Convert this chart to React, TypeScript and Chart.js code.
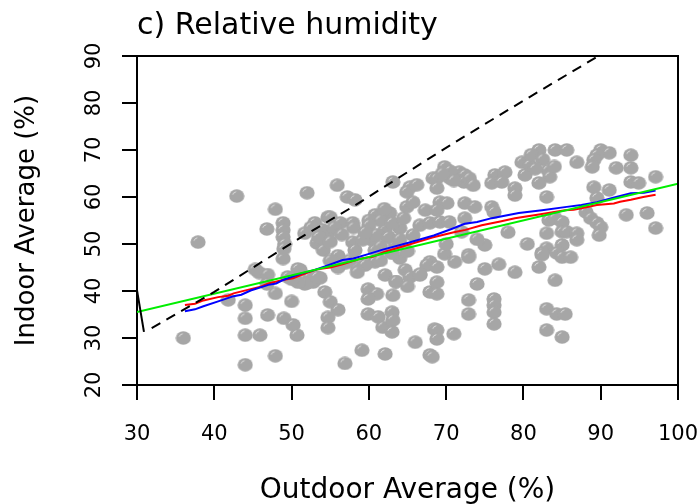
import React, { useEffect, useRef } from "react";
import { Chart, registerables } from "chart.js";

Chart.register(...registerables);

// Scatter: outdoor vs indoor relative humidity (%)
const outdoor = [
  36, 37.9, 42.9, 44, 44, 44, 44, 45.9, 41.8, 46.9, 47.9, 47.9, 49, 50.2, 50.7, 50, 45.8, 46.9, 45.3, 46.8,
  48.9, 47.9, 46.8, 48.9, 48.9, 48.9, 49.1, 49, 52, 55.9, 51.7, 53, 54.7, 54.1, 57.2, 58.2, 63.1, 65.3, 64.9, 66.2,
  68.3, 55, 56.3, 57.9, 54.7, 53.3, 54.1, 57.9, 58.2, 60.8, 62.7, 62.1, 60.4, 63.4, 60.8, 64, 59.2, 64.9, 65.7, 67.3,
  66.6, 65.7, 67.9, 51.1, 52.4, 53.7, 52.8, 52, 51.7, 53.3, 50.8, 50.8, 54.3, 55, 56, 54.7, 54.7, 56.9, 59.9, 61,
  59.9, 63.1, 59.9, 61.2, 61.8, 63, 63.1, 63, 59.1, 62.1, 66, 67.9, 68.5, 60.8, 62.1, 64, 64.7, 66.6, 67.9, 67.9,
  67.5, 65.3, 66.6, 82, 84.1, 85.6, 79.8, 80.8, 83.2, 80.2, 83.4, 69.8, 71.7, 72.4, 68.8, 70.5, 72.3, 76.3, 77.6, 75.9,
  77.2, 78.9, 78.9, 68.8, 69.2, 70.1, 83, 72.4, 73.7, 75.9, 76.2, 68.8, 69.2, 70.4, 72.4, 72, 83.3, 84.1, 85, 83,
  85, 83, 85, 75, 72.9, 82.4, 84.3, 69.8, 71.1, 72.9, 68.8, 75, 76.8, 78.9, 82, 82.4, 85, 84.1, 74, 68.8,
  68.8, 72.9, 76.2, 76.2, 76.2, 72.9, 76.2, 83, 84.3, 85.4, 83, 85, 68.8, 68.8, 71, 68.2, 86.9, 90, 91.1, 89.5,
  89.1, 88.9, 93.9, 92, 93.9, 97.1, 93.9, 94.9, 89.1, 91.1, 89.5, 88.1, 88.7, 89.5, 90, 93.3, 96, 97.1, 85.6, 86.9,
  86.9, 89.8, 86.1, 57, 58.5, 56, 55, 59.5, 61.5, 63.5, 58, 60, 62.5, 65, 70, 74, 78, 80.5,
  61.5, 63, 60, 61, 62.5, 64, 61.5, 63, 59.5, 62, 64.5, 52.5, 54, 55.5, 53.5, 55, 56.5, 70.5, 71, 73,
  69.5, 73.5, 81, 82.5, 81.5, 84, 82, 49.5, 50, 56, 57.5, 58.5, 63.5, 65,
];
const indoor = [
  30, 50.4, 60.2, 24.3, 37, 34.2, 30.6, 30.6, 38.1, 34.9, 26.2, 39.5, 34.2, 32.8, 30.6, 37.8, 43.9, 43.5, 44.6, 41.5,
  46.9, 57.4, 53.2, 54.5, 53, 51.5, 50, 49, 60.9, 62.5, 52.3, 54.5, 55.7, 51.5, 60, 59.4, 63.2, 62.1, 61.1, 62.6,
  64, 55.7, 54.5, 54.5, 52.3, 50.2, 48.7, 50.4, 48.7, 56.2, 56.6, 53, 50.9, 49.8, 48.7, 53.4, 50.9, 57.9, 58.9, 57.2,
  54, 51.9, 54.5, 44.5, 43, 42.8, 41.9, 41.7, 41.5, 43, 44.7, 41.9, 39.8, 37.7, 36, 34.4, 32.2, 24.6, 40.4, 39.4,
  38.3, 39.1, 35.1, 34.5, 32.3, 35.5, 33.8, 31.3, 27.4, 26.6, 29.1, 26.4, 31.9, 46.2, 43.4, 47, 44.5, 43.4, 46.2, 39.8,
  45.5, 43, 43.6, 70, 70, 70, 67.4, 66.8, 65.7, 64.7, 64.3, 66.4, 65.3, 64.7, 64, 64, 63.2, 64.7, 65.3, 63,
  63.2, 61.9, 60.4, 61.9, 58.9, 58.7, 60, 58.7, 57.9, 57.9, 56.8, 57.2, 54.7, 54.7, 55.5, 52.6, 55.1, 55.5, 54.7, 52.3,
  52.6, 49.1, 49.8, 49.8, 47.7, 48.1, 48.1, 47.9, 46.2, 47.2, 45.1, 44.7, 45.7, 44, 45.1, 47.7, 47.2, 42.3, 41.5, 41.9,
  39.4, 38.1, 38.3, 37, 35.5, 35.1, 33, 36.2, 35.1, 35.1, 31.7, 30.2, 31.7, 29.8, 30.9, 26, 67.4, 70, 69.4, 68.9,
  67.9, 66.4, 68.9, 66.2, 66.2, 64.3, 63.2, 63, 62.1, 61.5, 59.8, 56.8, 55.5, 54.5, 53.6, 56.2, 56.6, 53.4, 52.6, 52.3,
  50.9, 51.9, 47.2, 46, 45, 47.5, 46.5, 45.5, 46.5, 42, 53.5, 55, 51.5, 48.5, 50, 51, 52.5, 50,
  55, 54.5, 54, 52, 51.5, 51, 49.5, 48, 52.5, 57.5, 55.5, 53.5, 53, 53.5, 51.5, 50.5, 52, 65.5, 63.5, 64,
  65, 62.5, 69, 68, 66, 66.5, 63, 43, 42.5, 45, 46.5, 44, 42, 41,
];

// Red smoother
const redX = [36.2, 37.5, 38.6, 40.5, 41.8, 42.5, 44.7, 46, 47, 49, 50.2, 51.2, 53.3, 55, 56.6, 59, 60.5, 62, 65, 68.2, 71, 72.5, 74.6, 77, 78.9, 82, 85.4, 86.5, 87.5, 89.5, 91.7, 92.5, 93.9, 95.5, 97.1];
const redY = [37.0, 37.3, 38.0, 38.7, 39.0, 39.5, 40.4, 40.9, 41.6, 42.4, 42.7, 43.4, 44.6, 45.0, 45.7, 46.9, 47.3, 48.3, 49.8, 51.4, 52.5, 53.0, 54.0, 54.8, 55.5, 56.3, 57.2, 57.3, 57.6, 58.3, 58.6, 59.0, 59.4, 60.0, 60.5];
// Blue smoother
const blueX = [36.2, 37.5, 38.5, 40.5, 42.5, 43.5, 44.7, 47, 48, 49, 51.2, 53, 54.3, 56.6, 58, 59.8, 61.8, 65, 68.4, 70.7, 72.4, 74, 75.9, 79.4, 82.4, 85.6, 87.5, 89.5, 91.5, 93.9, 95.6, 97.1];
const blueY = [35.7, 36.1, 36.7, 37.8, 38.9, 39.2, 40.1, 41.3, 41.6, 42.4, 43.7, 44.5, 45.2, 46.6, 46.9, 47.8, 48.8, 50.2, 51.8, 53.2, 54.3, 54.7, 55.5, 56.6, 57.2, 57.9, 58.3, 58.9, 59.8, 60.8, 60.9, 61.4];
// Green linear fit
const greenX = [30, 100];
const greenY = [35.5, 62.8];
// Black dashed curve
const dashX = [31.9, 40, 51, 58, 70.5, 80, 89.5];
const dashY = [32.1, 39.8, 51.2, 58, 71, 80.5, 89.8];
// Short solid black segment at the left edge
const segX = [30, 30.9];
const segY = [40.2, 31.3];

const xTicks = [30, 40, 50, 60, 70, 80, 90, 100];
const yTicks = [20, 30, 40, 50, 60, 70, 80, 90];

const zip = (xs: number[], ys: number[]) => xs.map((x, i) => ({ x, y: ys[i] }));

function makeDot(): HTMLCanvasElement {
  const c = document.createElement("canvas");
  c.width = 16;
  c.height = 14;
  const g = c.getContext("2d")!;
  g.fillStyle = "#a6a6a6";
  g.beginPath();
  g.ellipse(8, 7, 7.6, 6.7, 0, 0, Math.PI * 2);
  g.fill();
  g.strokeStyle = "rgba(230,230,230,0.9)";
  g.lineWidth = 1;
  g.beginPath();
  g.arc(8, 7, 4.3, Math.PI * 1.1, Math.PI * 1.45);
  g.stroke();
  return c;
}

const FONT = "'DejaVu Sans', sans-serif";

export default function App() {
  const ref = useRef<HTMLCanvasElement>(null);
  useEffect(() => {
    document.body.style.margin = "0";
    const canvas = ref.current!;
    const boxPlugin = {
      id: "rbox",
      afterDraw(chart: any) {
        const { ctx, chartArea: a } = chart;
        ctx.save();
        ctx.strokeStyle = "#000";
        ctx.lineWidth = 2;
        ctx.beginPath();
        ctx.moveTo(a.left, a.top);
        ctx.lineTo(a.right, a.top);
        ctx.lineTo(a.right, a.bottom);
        ctx.stroke();
        ctx.restore();
      },
    };
    const dot = makeDot();
    const line = (xs: number[], ys: number[], color: string, order: number, dash?: number[]) => ({
      type: "scatter" as const,
      data: zip(xs, ys),
      showLine: true,
      borderColor: color,
      backgroundColor: color,
      borderWidth: 2,
      borderDash: dash || [],
      pointRadius: 0,
      order,
    });
    const chart = new Chart(canvas, {
      type: "scatter",
      data: {
        datasets: [
          line(dashX, dashY, "#000000", 1, [10, 7]),
          line(segX, segY, "#000000", 1),
          line(greenX, greenY, "#00ee00", 2),
          line(blueX, blueY, "#0000ff", 3),
          line(redX, redY, "#ff0000", 4),
          {
            type: "scatter",
            data: zip(outdoor, indoor),
            pointStyle: dot as any,
            pointRadius: 7,
            backgroundColor: "#a6a6a6",
            borderWidth: 0,
            order: 10,
          },
        ],
      },
      options: {
        responsive: false,
        animation: false,
        events: [],
        layout: { padding: { left: 0, right: 21, top: 0, bottom: 0 } },
        plugins: {
          legend: { display: false },
          tooltip: { enabled: false },
          title: {
            display: true,
            text: "c) Relative humidity",
            align: "start",
            fullSize: false,
            color: "#000",
            font: { family: FONT, size: 30, weight: "normal" },
            padding: { top: 8, bottom: 12 },
          },
        },
        scales: {
          x: {
            type: "linear",
            min: 30,
            max: 100,
            afterFit: (s: any) => {
              s.height = 119;
              s.paddingLeft = 0;
              s.paddingRight = 0;
            },
            afterBuildTicks: (s: any) => {
              s.ticks = xTicks.map((v) => ({ value: v }));
            },
            ticks: { color: "#000", font: { family: FONT, size: 21 }, padding: 22, autoSkip: false, maxRotation: 0, minRotation: 0 },
            grid: { display: true, drawOnChartArea: false, drawTicks: true, tickLength: 15, color: "#000", lineWidth: 2 },
            border: { display: true, color: "#000", width: 2 },
            title: { display: true, text: "Outdoor Average (%)", color: "#000", font: { family: FONT, size: 28 }, padding: { top: 0, bottom: -4 } },
          },
          y: {
            type: "linear",
            min: 20,
            max: 90,
            afterFit: (s: any) => {
              s.width = 137;
              s.paddingTop = 0;
              s.paddingBottom = 0;
            },
            afterBuildTicks: (s: any) => {
              s.ticks = yTicks.map((v) => ({ value: v }));
            },
            ticks: { color: "#000", font: { family: FONT, size: 21 }, padding: 14, autoSkip: false, minRotation: 90, maxRotation: 90, crossAlign: "center" },
            grid: { display: true, drawOnChartArea: false, drawTicks: true, tickLength: 15, color: "#000", lineWidth: 2 },
            border: { display: true, color: "#000", width: 2 },
            title: { display: true, text: "Indoor Average (%)", color: "#000", font: { family: FONT, size: 26 }, padding: { top: 12, bottom: 0 } },
          },
        },
      } as any,
      plugins: [boxPlugin],
    });
    return () => chart.destroy();
  }, []);
  return (
    <div style={{ position: "fixed", left: 0, top: 0, width: 699, height: 504, background: "#fff" }}>
      <canvas ref={ref} width={699} height={504} style={{ display: "block", width: 699, height: 504 }} />
    </div>
  );
}
